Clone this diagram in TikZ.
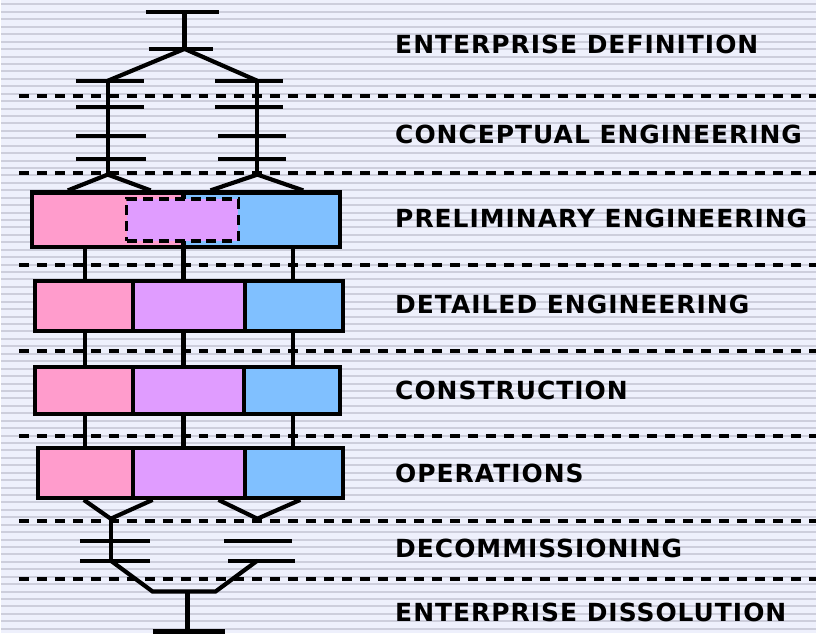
\documentclass[tikz,border=0pt]{standalone}
\usepackage{fontspec}
\newfontfamily\stagefont[LetterSpace=4]{DejaVu Sans}

\definecolor{bgcol}{HTML}{EEF0FC}
\definecolor{stripecol}{HTML}{CDCEDC}
\definecolor{pinkcol}{HTML}{FF9CCC}
\definecolor{purplecol}{HTML}{E09CFF}
\definecolor{bluecol}{HTML}{80C0FF}

\tikzset{
  line/.style={line width=4.2pt},
  sepline/.style={line width=4pt,dash pattern=on 10pt off 8pt},
  cell/.style={draw,line width=4.2pt,inner sep=0pt},
  stage/.style={anchor=west,inner sep=0pt,
    font=\stagefont\bfseries\fontsize{25}{25}\selectfont},
}

\begin{document}
\begin{tikzpicture}[x=1pt,y=-1pt]
  % BACKGROUND
  \fill[bgcol] (0,0) rectangle (817,635);
  \foreach \y in {4.5,11.95,...,635}
    \draw[stripecol,line width=2pt] (0,\y) -- (817,\y);
  \useasboundingbox (0,0) rectangle (817,635);

  % PHASE SEPARATORS
  \foreach \y in {96,173,266,352,437,522,580}
    \draw[sepline] (18,\y) -- (817,\y);

  % COLUMNS
  \coordinate (colA) at (84,0);
  \coordinate (colB) at (183,0);
  \coordinate (colC) at (293,0);

  % PRELIMINARY ROW
  \node[cell,fill=pinkcol,minimum width=152pt,minimum height=55pt]
    (prel-a) at (107,220.5) {};
  \node[cell,fill=bluecol,minimum width=157pt,minimum height=55pt]
    (prel-c) at (261.5,220.5) {};
  \node[cell,fill=purplecol,line width=3.6pt,dash pattern=on 10pt off 6pt,
    minimum width=112pt,minimum height=42pt] (prel-b) at (182,220.5) {};

  % OTHER ROWS
  \foreach \name/\y/\h/\xa/\xb/\xc/\xd in
      {det/307/50/34/132/245/343, con/391.5/47/34/132/244/340,
       ops/474/50/37/132/245/343}{
    \node[cell,fill=pinkcol,minimum width={(\xb-\xa)*1pt},minimum height=\h pt]
      (\name-a) at ({(\xa+\xb)/2},\y) {};
    \node[cell,fill=purplecol,minimum width={(\xc-\xb)*1pt},minimum height=\h pt]
      (\name-b) at ({(\xb+\xc)/2},\y) {};
    \node[cell,fill=bluecol,minimum width={(\xd-\xc)*1pt},minimum height=\h pt]
      (\name-c) at ({(\xc+\xd)/2},\y) {};
  }

  % LINKS BETWEEN ROWS
  \foreach \up/\dn in {prel/det,det/con,con/ops}
    \foreach \c in {A,B,C}
      \draw[line] (\up-a.south -| col\c) -- (\dn-a.north -| col\c);

  % TOP TREE
  \coordinate (top)   at (184,12);
  \coordinate (split) at (184,49);
  \coordinate (lfork) at (107,81);
  \coordinate (rfork) at (257,81);
  \coordinate (lfoot) at (107,175);
  \coordinate (rfoot) at (257,175);
  \draw[line] (top) ++(-39,0) -- ++(74,0);
  \draw[line] (top) -- (split);
  \draw[line] (split) ++(-36,0) -- ++(65,0);
  \draw[line] (lfork) -- (split) -- (rfork);
  \draw[line] (lfork) -- (lfoot);
  \draw[line] (rfork) -- (rfoot);
  \foreach \y/\d in {0/0,26/0,55/1,78/1}{
    \draw[line] (lfork) ++(-32,\y) -- ++(68+\d*2,0);
    \draw[line] (rfork) ++(-42+\d*3,\y) -- ++(68,0);
  }
  \draw[line] (prel-a.north -| 67,0) -- (lfoot) -- (prel-a.north -| 150,0);
  \draw[line] (prel-c.north -| 210,0) -- (rfoot) -- (prel-c.north -| 303,0);

  % BOTTOM TREE
  \coordinate (lvee)  at (110,520);
  \coordinate (rvee)  at (257,520);
  \coordinate (ljoin) at (110,562);
  \coordinate (rjoin) at (257,562);
  \coordinate (merge) at (187,593);
  \coordinate (base)  at (187,633);
  \draw[line] (ops-a.south -| 83,0) -- (lvee) -- (ops-b.south -| 152,0);
  \draw[line] (ops-b.south -| 218,0) -- (rvee) -- (ops-c.south -| 300,0);
  \draw[line] (lvee) -- (ljoin);
  \draw[line] (ljoin) ++(-31,-20) -- ++(70,0);
  \draw[line] (ljoin) ++(-31,0) -- ++(70,0);
  \draw[line] (rjoin) ++(-33,-20) -- ++(68,0);
  \draw[line] (rjoin) ++(-29,0) -- ++(67,0);
  \draw[line] (ljoin) -- (merge -| 152,0) -- (merge -| 215,0) -- (rjoin);
  \draw[line] (merge) -- (base);
  \draw[line] (base) ++(-35,0) -- ++(73,0);

  % STAGE NAMES
  \node[stage] (enterprise)   at (395,45)  {ENTERPRISE DEFINITION};
  \node[stage] (conceptual)   at (395,135) {CONCEPTUAL ENGINEERING};
  \node[stage] (preliminary)  at (395,219) {PRELIMINARY ENGINEERING};
  \node[stage] (detailed)     at (395,305) {DETAILED ENGINEERING};
  \node[stage] (construction) at (395,391) {CONSTRUCTION};
  \node[stage] (operations)   at (395,475) {OPERATIONS};
  \node[stage] (decommission) at (395,550) {DECOMMISSIONING};
  \node[stage] (dissolution)  at (395,614) {ENTERPRISE DISSOLUTION};
\end{tikzpicture}
\end{document}
